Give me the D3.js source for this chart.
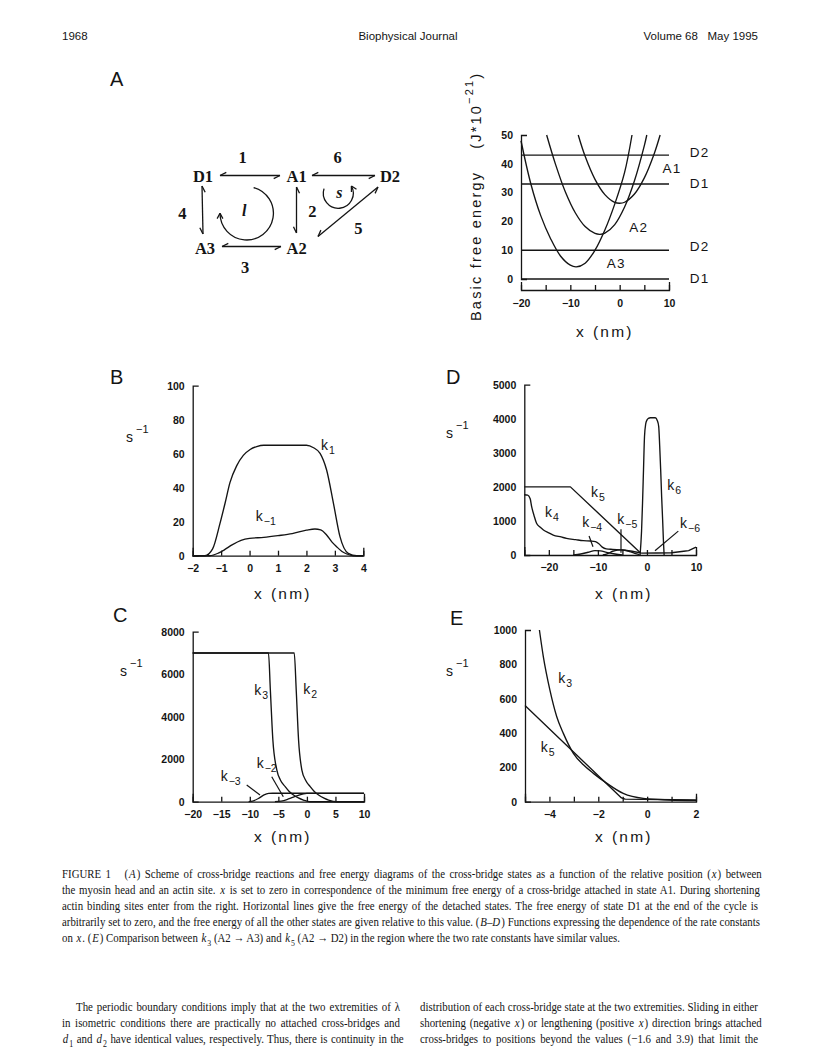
<!DOCTYPE html>
<html><head><meta charset="utf-8">
<script src="https://cdn.jsdelivr.net/npm/d3@7"></script>
<style>
body{margin:0;background:#fff}
text{white-space:pre}
</style></head><body>
<svg id="fig" width="816" height="1062" xmlns="http://www.w3.org/2000/svg"></svg>
<script>
// ---------------- DATA ----------------
// Panel A: basic free energy (J*10^-21) vs x (nm)
const energyA3X = [-20, -18, -16, -14, -12, -10, -8.8, -7, -5, -3, -1, 1, 2.5];
const energyA3  = [48, 33, 22, 14, 8, 4.8, 4.2, 5.5, 10, 17, 26, 37, 50];
const energyA2X = [-14.8, -13, -11, -9, -7, -5, -4, -3, -1, 1, 3, 5, 5.5];
const energyA2  = [50, 39.8, 30.2, 23, 18.2, 15.8, 15.5, 15.9, 18.9, 25, 34.1, 46.3, 50];
const energyA1X = [-8.4, -7, -5, -3, -1, 0, 1, 3, 5, 7, 8.2];
const energyA1  = [50, 42.6, 34.6, 29.3, 26.6, 26.3, 26.65, 29.5, 35.1, 43.5, 50];
const detachedNames  = ["D1", "D2", "D1", "D2"];
const detachedLevels = [0, 10, 33, 43];
const stateNames = ["A1", "A2", "A3"];

// Panel B: k1, k-1 (s^-1) vs x (nm)
const bX    = [-2, -1.57, -1.3, -1.04, -0.86, -0.69, -0.45, -0.22, 0.02, 0.25, 0.5, 1, 1.5, 2.0, 2.25, 2.48, 2.71, 2.95, 3.18, 3.47, 3.77, 4];
const k1    = [0, 0, 4, 19, 31, 43, 53, 59, 62.5, 64.2, 65, 65, 65, 65, 63.5, 60.2, 50.4, 30.8, 11.2, 1.4, 0, 0];
const km1X  = [-2, -1.4, -1.1, -0.9, -0.6, -0.3, 0, 0.5, 1, 1.5, 2, 2.3, 2.5, 2.71, 2.9, 3.06, 3.25, 3.42, 3.65, 4];
const km1   = [0, 0, 1.5, 3.3, 6.5, 9, 10.2, 10.8, 11.8, 13, 15, 15.7, 15.2, 12.2, 8, 5.3, 2.5, 1, 0, 0];

// Panel D: k4, k-4, k5, k-5, k6, k-6
const k4X   = [-25, -24.3, -23.8, -23.5, -23, -22.5, -21.8, -21.1, -20, -19.1, -17.5, -16.4, -14.5, -13, -11.5, -10.5, -9.8, -9.1, -8.3, -7, -5, -3, -1.2];
const k4    = [1770, 1760, 1650, 1420, 1150, 930, 820, 734, 650, 587, 530, 489, 450, 421, 410, 390, 330, 230, 180, 165, 150, 110, 60];
const k5X   = [-25, -15.6, -1.3];
const k5    = [2000, 2000, 60];
const k6X   = [-1.4, -1.1, -0.9, -0.7, -0.5, -0.25, 0, 0.3, 0.7, 1.2, 1.7, 2.1, 2.4, 2.6, 2.8, 3.0, 3.2, 3.35, 3.5];
const k6    = [0, 700, 1520, 2500, 3470, 3850, 3960, 4010, 4030, 4030, 4030, 3950, 3770, 3200, 2500, 1700, 1030, 450, 0];
const km4X  = [-15, -13.5, -12, -10.6, -9.5, -8, -6.5, -5];
const km4   = [0, 30, 80, 130, 120, 70, 30, 0];
const km5X  = [-9, -8, -7, -6, -5.3, -4.5, -3.5, -2.5, -1.5];
const km5   = [0, 40, 110, 145, 150, 140, 100, 50, 10];
const km6X  = [-1.2, 2, 5, 7.5, 8.5, 10];
const km6   = [55, 60, 65, 110, 130, 230];

// Panel C: k2, k-2, k3, k-3
const k2X   = [-20, -2.22, -1.87, -1.46, -0.88, -0.2, 0.58, 1.3, 2.05, 3, 3.8, 5.3, 10];
const k2    = [7000, 7000, 5255, 2900, 1490, 1000, 706, 480, 314, 170, 78, 0, 0];
const k3X   = [-20, -6.73, -6.4, -5.96, -5.26, -4.6, -3.8, -3.1, -2.34, -1.5, -0.6, 0.5, 10];
const k3    = [7000, 7000, 5255, 2900, 1490, 1000, 706, 480, 314, 180, 78, 0, 0];
const km2X  = [-5.6, -4.5, -3.5, -2.5, -1.5, -0.6, 0, 10];
const km2   = [0, 30, 100, 200, 300, 370, 390, 390];
const km3X  = [-10.2, -9.5, -8.5, -7.5, -6.7, -6, 10];
const km3   = [0, 30, 150, 320, 390, 400, 400];

// Panel E: k3 vs k5 close-up
const eK3X  = [-4.41, -4.25, -3.98, -3.7, -3.43, -3.02, -2.61, -2.2, -1.66, -0.98, -0.16, 0.93, 2];
const eK3   = [1000, 845, 650, 495, 398, 282, 215, 165, 108, 48, 19, 10, 6];
const eK5X  = [-5, -1.05, -0.9, 2];
const eK5   = [560, 22, 15, 10];

// Tick values
const ticksA_x = [-20, -15, -10, -5, 0, 5, 10], labA_x = [-20, -10, 0, 10], ticksA_y = [0, 10, 20, 30, 40, 50];
const ticksB_x = [-2, -1, 0, 1, 2, 3, 4], ticksB_y = [0, 20, 40, 60, 80, 100];
const ticksD_x = [-25, -20, -15, -10, -5, 0, 5, 10], labD_x = [-20, -10, 0, 10], ticksD_y = [0, 1000, 2000, 3000, 4000, 5000];
const ticksC_x = [-20, -15, -10, -5, 0, 5, 10], ticksC_y = [0, 2000, 4000, 6000, 8000];
const ticksE_x = [-5, -4, -3, -2, -1, 0, 1, 2], labE_x = [-4, -2, 0, 2], ticksE_y = [0, 200, 400, 600, 800, 1000];

// ---------------- DRAWING ----------------
const INK = "#141414";
const SANS = "'Liberation Sans', Arial, Helvetica, sans-serif";
const SERIF = "'Liberation Serif', 'Times New Roman', serif";
const svg = d3.select("#fig");
svg.append("rect").attr("width", 816).attr("height", 1062).attr("fill", "#fff");

function txt(x, y, s, o = {}) {
  return svg.append("text").attr("x", x).attr("y", y).text(s)
    .attr("font-family", o.family || SANS).attr("font-size", o.size || 13)
    .attr("font-weight", o.weight || "normal").attr("font-style", o.style || "normal")
    .attr("text-anchor", o.anchor || "start").attr("letter-spacing", o.ls || 0)
    .attr("fill", INK);
}

// Header
txt(62, 40, "1968", {size: 11.5});
txt(408, 40, "Biophysical Journal", {size: 11.5, anchor: "middle"});
txt(758, 40, "Volume 68   May 1995", {size: 11.5, anchor: "end"});

// Panel letters
txt(110, 86, "A", {size: 20, weight: 300});
txt(110, 384, "B", {size: 20, weight: 300});
txt(113, 622, "C", {size: 20, weight: 300});
txt(446, 384, "D", {size: 20, weight: 300});
txt(450, 625, "E", {size: 20, weight: 300});

function panel(c) {
  const x = d3.scaleLinear().domain(c.xDomain).range([c.left, c.right]);
  const y = d3.scaleLinear().domain(c.yDomain).range([c.bottom, c.top]);
  const fmt = d3.format("d");
  const ya = d3.axisLeft(y).tickValues(c.yTicks).tickSizeInner(0).tickSizeOuter(-6).tickPadding(8).tickFormat(fmt);
  const gy = svg.append("g").attr("transform", `translate(${c.left},0)`).call(ya);
  const xlab = c.xLabels || c.xTicks;
  const xa = d3.axisBottom(x).tickValues(c.xTicks).tickSizeInner(-5).tickSizeOuter(-8).tickPadding(c.xPad || 9)
    .tickFormat(d => xlab.includes(d) ? fmt(d) : "");
  const gx = svg.append("g").attr("transform", `translate(0,${c.axisY})`).call(xa);
  [gx, gy].forEach(g => {
    g.attr("font-family", SANS).attr("font-size", 10.5).attr("font-weight", "bold").attr("color", INK);
    g.selectAll("path,line").attr("stroke-width", 1.3);
  });
  return {x, y};
}

function curve(p, xs, ys, cv) {
  const pts = xs.map((v, i) => [v, ys[i]]);
  svg.append("path").datum(pts)
    .attr("d", d3.line().x(d => p.x(d[0])).y(d => p.y(d[1])).curve(cv || d3.curveMonotoneX))
    .attr("fill", "none").attr("stroke", INK).attr("stroke-width", 1.35).attr("stroke-linejoin", "round");
}
function leader(p, x1, y1, x2, y2) {
  svg.append("line").attr("x1", p.x(x1)).attr("y1", p.y(y1)).attr("x2", p.x(x2)).attr("y2", p.y(y2))
    .attr("stroke", INK).attr("stroke-width", 1.2);
}
function kLabel(p, xv, yv, sub) {
  const t = svg.append("text").attr("x", p.x(xv)).attr("y", p.y(yv))
    .attr("font-family", SANS).attr("font-size", 14).attr("fill", INK);
  t.append("tspan").text("k");
  t.append("tspan").text(sub).attr("font-size", 10.5).attr("dy", 4).attr("dx", 1);
}
function sInv(x, y) {
  const t = svg.append("text").attr("x", x).attr("y", y).attr("font-family", SANS).attr("font-size", 14).attr("fill", INK);
  t.append("tspan").text("s");
  t.append("tspan").text("\u22121").attr("font-size", 11).attr("dy", -9).attr("dx", 3);
}
function xTitle(xc, y) {
  txt(xc - 24, y, "x", {size: 15.5});
  txt(xc - 7, y, "(nm)", {size: 15.5, ls: 2.2});
}

// ----- Panel A (energy diagram) -----
const pA = panel({left: 521, right: 669, top: 135, bottom: 279, xDomain: [-20, 10], yDomain: [0, 50],
  axisY: 290, xTicks: ticksA_x, xLabels: labA_x, yTicks: ticksA_y, xPad: 10});
detachedLevels.forEach((lv, i) => {
  curve(pA, [-20, 10], [lv, lv], d3.curveLinear);
});
curve(pA, energyA3X, energyA3, d3.curveCatmullRom);
curve(pA, energyA2X, energyA2, d3.curveCatmullRom);
curve(pA, energyA1X, energyA1, d3.curveCatmullRom);
const levelLabelY = [-1.3, 9.8, 31.6, 42.4];
detachedNames.forEach((n, i) => txt(pA.x(14.2), pA.y(levelLabelY[i]), n, {size: 13.5, ls: 1.2}));
txt(pA.x(8.7), pA.y(36.8), stateNames[0], {size: 13.5, ls: 1.2});
txt(pA.x(1.95), pA.y(16.4), stateNames[1], {size: 13.5, ls: 1.2});
txt(pA.x(-2.6), pA.y(3.7), stateNames[2], {size: 13.5, ls: 1.2});
xTitle(600, 337);
{
  const t = svg.append("text").attr("transform", "translate(481,321) rotate(-90)")
    .attr("font-family", SANS).attr("font-size", 14.5).attr("letter-spacing", 2.2).attr("fill", INK);
  t.append("tspan").text("Basic free energy");
  t.append("tspan").text("(J*10").attr("dx", 22);
  t.append("tspan").text("\u221221").attr("font-size", 11).attr("dy", -8);
  t.append("tspan").text(")").attr("dy", 8);
}

// ----- Reaction scheme -----
const SCH = {D1: [203, 175.5], A1: [296.7, 175.5], D2: [390, 175.5], A3: [205, 247.5], A2: [296.7, 247.5]};
Object.entries(SCH).forEach(([k, v]) => txt(v[0], v[1] + 6, k, {family: SERIF, size: 16.5, anchor: "middle", weight: "bold"}));
[["1", 242.7, 156.7], ["6", 337.7, 156.7], ["4", 182.3, 213.3], ["2", 312.3, 210.7], ["5", 358.3, 228.3], ["3", 245, 266.7]]
  .forEach(d => txt(d[1], d[2] + 6, d[0], {family: SERIF, size: 16.5, anchor: "middle", weight: "bold"}));
txt(244.3, 216, "l", {family: SERIF, size: 16, anchor: "middle", style: "italic", weight: "bold"});
txt(339.3, 198, "s", {family: SERIF, size: 16, anchor: "middle", style: "italic", weight: "bold"});

function harpoon(x1, y1, x2, y2) {
  svg.append("line").attr("x1", x1).attr("y1", y1).attr("x2", x2).attr("y2", y2).attr("stroke", INK).attr("stroke-width", 1.3);
  const L = 7, a = 0.45;
  const barb = (px, py, qx, qy) => {
    const ang = Math.atan2(py - qy, px - qx);
    const ba = ang + Math.PI - a;
    svg.append("line").attr("x1", px).attr("y1", py)
      .attr("x2", px + L * Math.cos(ba)).attr("y2", py + L * Math.sin(ba)).attr("stroke", INK).attr("stroke-width", 1.3);
  };
  barb(x2, y2, x1, y1);
  barb(x1, y1, x2, y2);
}
harpoon(220, 175.5, 280, 175.5);
harpoon(312, 175.5, 375, 175.5);
harpoon(202, 186, 203, 234);
harpoon(296.5, 187, 296.5, 233);
harpoon(222, 246.5, 281, 246.5);
harpoon(318, 236.5, 378, 187);

function circArrow(cx, cy, r, a0, a1, ccw) {
  const p = d3.path();
  const r0 = a0 * Math.PI / 180, r1 = a1 * Math.PI / 180;
  p.moveTo(cx + r * Math.cos(r0), cy + r * Math.sin(r0));
  p.arc(cx, cy, r, r0, r1, ccw);
  svg.append("path").attr("d", p.toString()).attr("fill", "none").attr("stroke", INK).attr("stroke-width", 1.3);
  const ex = cx + r * Math.cos(r1), ey = cy + r * Math.sin(r1);
  let tx = -Math.sin(r1), ty = Math.cos(r1);
  if (ccw) { tx = -tx; ty = -ty; }
  const ang = Math.atan2(ty, tx);
  [0.5, -0.5].forEach(o => {
    const ba = ang + Math.PI + o;
    svg.append("line").attr("x1", ex).attr("y1", ey).attr("x2", ex + 6 * Math.cos(ba)).attr("y2", ey + 6 * Math.sin(ba))
      .attr("stroke", INK).attr("stroke-width", 1.3);
  });
}
circArrow(246.7, 213.3, 26.7, -75, 180, false);
circArrow(338.3, 193.3, 15, 198, -29, true);

// ----- Panel B -----
const pB = panel({left: 192.7, right: 363.3, top: 385.7, bottom: 555.7, xDomain: [-2, 4], yDomain: [0, 100],
  axisY: 555.7, xTicks: ticksB_x, yTicks: ticksB_y});
curve(pB, bX, k1);
curve(pB, km1X, km1);
kLabel(pB, 2.51, 62.2, "1");
kLabel(pB, 0.22, 20.6, "\u22121");
sInv(126, 442);
xTitle(278, 599);

// ----- Panel D -----
const pD = panel({left: 524.3, right: 696, top: 384.7, bottom: 555, xDomain: [-25, 10], yDomain: [0, 5000],
  axisY: 555, xTicks: ticksD_x, xLabels: labD_x, yTicks: ticksD_y});
curve(pD, k5X, k5, d3.curveLinear);
curve(pD, k4X, k4);
curve(pD, k6X, k6);
curve(pD, km4X, km4);
curve(pD, km5X, km5);
curve(pD, km6X, km6, d3.curveLinear);
kLabel(pD, -11.4, 1712, "5");
kLabel(pD, -20.8, 1107, "4");
kLabel(pD, 4.15, 1908, "6");
kLabel(pD, -13.2, 831, "\u22124");
kLabel(pD, -6.04, 910, "\u22125");
kLabel(pD, 6.74, 784, "\u22126");
leader(pD, -11.8, 558, -11.0, 244);
leader(pD, -5.29, 755, -5.29, 68);
leader(pD, 6.39, 700, 1.64, 126);
sInv(446, 438);
xTitle(619, 599);

// ----- Panel C -----
const pC = panel({left: 192.7, right: 364, top: 631.7, bottom: 801.7, xDomain: [-20, 10], yDomain: [0, 8000],
  axisY: 801.7, xTicks: ticksC_x, yTicks: ticksC_y});
curve(pC, k2X, k2);
curve(pC, k3X, k3);
curve(pC, km2X, km2);
curve(pC, km3X, km3);
kLabel(pC, -9.2, 5021, "3");
kLabel(pC, -0.63, 5068, "2");
kLabel(pC, -8.79, 1572, "\u22122");
kLabel(pC, -15.1, 974, "\u22123");
leader(pC, -10.54, 786, -8.21, 315);
leader(pC, -6.16, 1176, -4.13, 235);
sInv(120, 676);
xTitle(278, 842);

// ----- Panel E -----
const pE = panel({left: 525, right: 696, top: 630, bottom: 801.7, xDomain: [-5, 2], yDomain: [0, 1000],
  axisY: 801.7, xTicks: ticksE_x, xLabels: labE_x, yTicks: ticksE_y});
curve(pE, eK3X, eK3);
curve(pE, eK5X, eK5, d3.curveLinear);
kLabel(pE, -3.64, 690, "3");
kLabel(pE, -4.36, 291, "5");
sInv(446, 676);
xTitle(619, 842);

// ----- Caption and body text (condensed serif, justified with word-spacing) -----
function buildLine(parts, size) {
  const t = svg.append("text").attr("x", 0).attr("y", 0).attr("font-family", SERIF).attr("font-size", size).attr("fill", INK);
  let shifted = 0, prevItalic = false;
  parts.forEach(p => {
    const s = typeof p === "string" ? {t: p} : p;
    const ts = t.append("tspan").text(s.t);
    let dx = 0;
    if (s.i) { ts.attr("font-style", "italic"); dx += 1; }
    if (prevItalic) dx += 1.2;
    if (dx) ts.attr("dx", dx);
    if (s.sub) { ts.attr("font-size", size * 0.72).attr("dy", size * 0.28); shifted = size * 0.28; }
    else if (shifted) { ts.attr("dy", -shifted); shifted = 0; }
    prevItalic = !!s.i;
  });
  return t;
}
function block(lines, size) {
  const nodes = lines.map(l => buildLine(l.parts, size));
  let k = 1;
  lines.forEach((l, i) => {
    if (l.width) k = Math.min(k, l.width / nodes[i].node().getComputedTextLength());
  });
  k *= 0.995;
  nodes.forEach((n, i) => {
    const l = lines[i];
    n.attr("transform", `translate(${l.x},${l.y}) scale(${k},1)`);
    if (!l.width) return;
    const w = n.node().getComputedTextLength();
    const text = l.parts.map(p => typeof p === "string" ? p : p.t).join("");
    const spaces = (text.match(/ /g) || []).length;
    if (spaces > 0) n.attr("word-spacing", (l.width / k - w) / spaces);
  });
}
const capParts = [
  ["FIGURE 1   (", {t: "A", i: 1}, ") Scheme of cross-bridge reactions and free energy diagrams of the cross-bridge states as a function of the relative position (", {t: "x", i: 1}, ") between"],
  ["the myosin head and an actin site. ", {t: "x", i: 1}, " is set to zero in correspondence of the minimum free energy of a cross-bridge attached in state A1. During shortening"],
  ["actin binding sites enter from the right. Horizontal lines give the free energy of the detached states. The free energy of state D1 at the end of the cycle is"],
  ["arbitrarily set to zero, and the free energy of all the other states are given relative to this value. (", {t: "B\u2013D", i: 1}, ") Functions expressing the dependence of the rate constants"],
  ["on ", {t: "x", i: 1}, ". (", {t: "E", i: 1}, ") Comparison between ", {t: "k", i: 1}, {t: "3", sub: 1}, " (A2 \u2192 A3) and ", {t: "k", i: 1}, {t: "5", sub: 1}, " (A2 \u2192 D2) in the region where the two rate constants have similar values."]
];
block(capParts.map((p, i) => ({x: 62, y: 878 + 16 * i, parts: p, width: i < 4 ? 696 : null})), 12.5);

block([
  {x: 76, y: 1011, parts: ["The periodic boundary conditions imply that at the two extremities of \u03bb"], width: 324},
  {x: 62, y: 1027, parts: ["in isometric conditions there are practically no attached cross-bridges and"], width: 338},
  {x: 62, y: 1043, parts: [{t: "d", i: 1}, {t: "1", sub: 1}, " and ", {t: "d", i: 1}, {t: "2", sub: 1}, " have identical values, respectively. Thus, there is continuity in the"], width: 338},
  {x: 420, y: 1011, parts: ["distribution of each cross-bridge state at the two extremities. Sliding in either"], width: 338},
  {x: 420, y: 1027, parts: ["shortening (negative ", {t: "x", i: 1}, ") or lengthening (positive ", {t: "x", i: 1}, ") direction brings attached"], width: 338},
  {x: 420, y: 1043, parts: ["cross-bridges to positions beyond the values (\u22121.6 and 3.9) that limit the"], width: 338}
], 13);
</script>
</body></html>
